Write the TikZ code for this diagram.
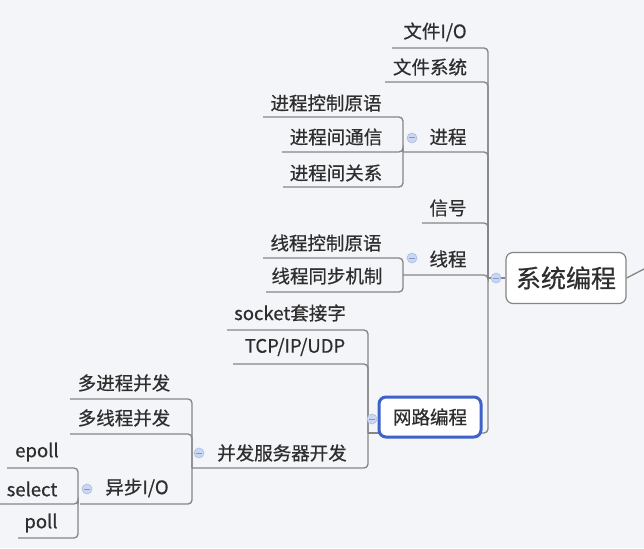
\documentclass[tikz,border=0pt]{standalone}
\usepackage{fontspec}
\setmainfont{Noto Sans CJK SC}[FakeBold=0.6]
\definecolor{bg}{HTML}{F4F5F9}
\definecolor{linegray}{HTML}{858585}
\definecolor{txt}{HTML}{2E2E2E}
\definecolor{foldfill}{HTML}{CBD7F0}
\definecolor{foldedge}{HTML}{A9BCE4}
\definecolor{foldline}{HTML}{7E98D6}
\definecolor{selblue}{HTML}{3E62C9}
\begin{document}
\begin{tikzpicture}[x=1pt,y=-1pt,
  conn/.style={draw=linegray, line width=1.3pt, rounded corners=4pt},
  lbl/.style={text=txt, font=\fontsize{18.5}{20}\selectfont, inner sep=0pt, anchor=center},
  mainbox/.style={draw=linegray, line width=1.2pt, fill=white, rounded corners=7pt,
    minimum width=120pt, minimum height=51pt, inner sep=0pt, text=txt,
    font=\fontsize{25}{27}\selectfont},
  selbox/.style={draw=selblue, line width=3pt, fill=white, rounded corners=7pt,
    minimum width=102pt, minimum height=40pt, inner sep=0pt, text=txt,
    font=\fontsize{18.5}{20}\selectfont},
  fold/.style={circle, minimum size=10pt, inner sep=0pt, fill=foldfill, draw=foldedge,
    line width=0.6pt,
    path picture={\draw[foldline, line width=1pt]
      ([xshift=-2.6pt]path picture bounding box.center) --
      ([xshift=2.6pt]path picture bounding box.center);}}
]
\fill[bg] (0,0) rectangle (644,548);
\useasboundingbox (0,0) rectangle (644,548);

% ---------- coordinates: underline ends and joints ----------
% level 1 (spine x=488)
\coordinate (jM) at (488,278);
\coordinate (fioL) at (392,48);   \coordinate (fioC) at (488,48);
\coordinate (fsL) at (385,82);    \coordinate (fsC) at (488,82);
\coordinate (procL) at (403,152); \coordinate (procC) at (488,152);
\coordinate (sigL) at (422,223);  \coordinate (sigC) at (488,223);
\coordinate (thrL) at (403,275);  \coordinate (thrC) at (488,275);
\coordinate (netC) at (488,433);  \coordinate (netE) at (480,433);
% process bracket x=403
\coordinate (jP) at (403,152);
\coordinate (pc1L) at (263,117); \coordinate (pc1C) at (403,117);
\coordinate (pc2L) at (282,152); \coordinate (pc2C) at (403,152);
\coordinate (pc3L) at (283,187); \coordinate (pc3C) at (403,187);
% thread bracket x=403
\coordinate (jT) at (403,275);
\coordinate (tc1L) at (263,258); \coordinate (tc1C) at (403,258);
\coordinate (tc2L) at (266,292); \coordinate (tc2C) at (403,292);
% network bracket x=368
\coordinate (jN) at (368,433);   \coordinate (netW) at (379,433);
\coordinate (sockL) at (227,330); \coordinate (sockC) at (368,330);
\coordinate (tcpL) at (233,364);  \coordinate (tcpC) at (368,364);
\coordinate (concL) at (192,468); \coordinate (concC) at (368,468);
% concurrency bracket x=192
\coordinate (jC) at (192,468);
\coordinate (mpL) at (70,399);  \coordinate (mpC) at (192,399);
\coordinate (mtL) at (70,434);  \coordinate (mtC) at (192,434);
\coordinate (aioL) at (80,504); \coordinate (aioC) at (192,504);
% async bracket x=78
\coordinate (jA) at (78,504);
\coordinate (epL) at (7,468);   \coordinate (epC) at (78,468);
\coordinate (seL) at (0,504);   \coordinate (seC) at (78,504);
\coordinate (poL) at (18,538);  \coordinate (poC) at (78,538);
\coordinate (out) at (646,268);

% ---------- connectors ----------
\draw[conn] (jM) -- (fioC) -- (fioL);
\draw[conn] (jM) -- (fsC) -- (fsL);
\draw[conn] (jM) -- (procC) -- (procL);
\draw[conn] (jM) -- (sigC) -- (sigL);
\draw[conn] (jM) -- (thrC) -- (thrL);
\draw[conn] (jM) -- (netC) -- (netE);

\draw[conn] (jP) -- (pc1C) -- (pc1L);
\draw[conn] (jP) -- (pc2C) -- (pc2L);
\draw[conn] (jP) -- (pc3C) -- (pc3L);

\draw[conn] (jT) -- (tc1C) -- (tc1L);
\draw[conn] (jT) -- (tc2C) -- (tc2L);

\draw[conn] (jN) -- (netW);
\draw[conn] (jN) -- (sockC) -- (sockL);
\draw[conn] (jN) -- (tcpC) -- (tcpL);
\draw[conn] (jN) -- (concC) -- (concL);

\draw[conn] (jC) -- (mpC) -- (mpL);
\draw[conn] (jC) -- (mtC) -- (mtL);
\draw[conn] (jC) -- (aioC) -- (aioL);

\draw[conn] (jA) -- (epC) -- (epL);
\draw[conn] (jA) -- (seC) -- (seL);
\draw[conn] (jA) -- (poC) -- (poL);

% ---------- main and selected nodes ----------
\node[mainbox] (sys) at (566,278) {系统编程};
\draw[conn] (jM) -- (sys.west);
\draw[conn] (sys.east) -- (out);
\node[selbox] (net) at (430,417) {网路编程};

% ---------- labels ----------
\node[lbl] (fio) at (435,32) {文件I/O};
\node[lbl] (fs) at (430,67) {文件系统};
\node[lbl] (proc) at (448,137) {进程};
\node[lbl] (pc1) at (326,103) {进程控制原语};
\node[lbl] (pc2) at (336,137) {进程间通信};
\node[lbl] (pc3) at (336,173) {进程间关系};
\node[lbl] (sig) at (448,208) {信号};
\node[lbl] (tc1) at (326,243) {线程控制原语};
\node[lbl] (thr) at (448,259) {线程};
\node[lbl] (tc2) at (327,276) {线程同步机制};
\node[lbl] (sock) at (290,313) {socket套接字};
\node[lbl] (tcp) at (295,347) {TCP/IP/UDP};
\node[lbl] (conc) at (282,453) {并发服务器开发};
\node[lbl] (mp) at (124,383) {多进程并发};
\node[lbl] (mt) at (124,418) {多线程并发};
\node[lbl] (aio) at (137,488) {异步I/O};
\node[lbl] (ep) at (37,452) {epoll};
\node[lbl] (se) at (32,489) {select};
\node[lbl] (po) at (41,523) {poll};

% ---------- fold markers ----------
\node[fold] (fM) at (496,278) {};
\node[fold] (fP) at (412,138) {};
\node[fold] (fT) at (412,258) {};
\node[fold] (fN) at (372,419) {};
\node[fold] (fC) at (199,453) {};
\node[fold] (fA) at (87,489) {};
\end{tikzpicture}
\end{document}
